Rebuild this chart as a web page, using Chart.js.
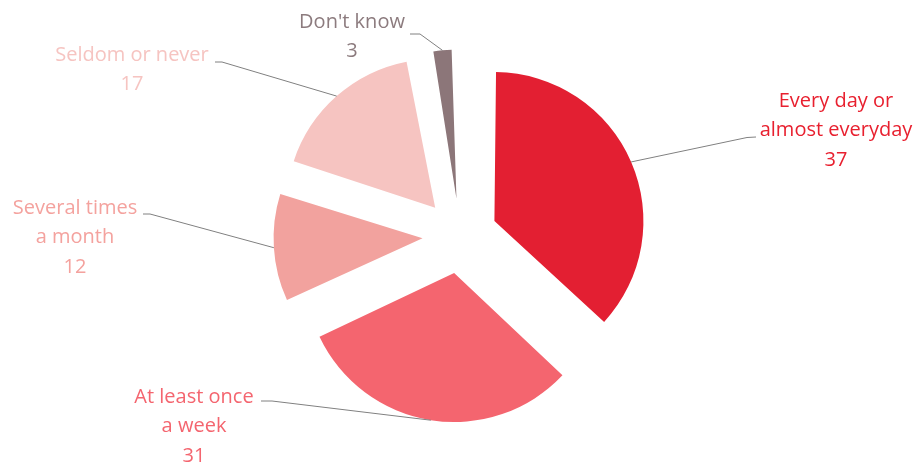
<!DOCTYPE html>
<html>
<head>
<meta charset="utf-8">
<script src="https://cdn.jsdelivr.net/npm/chart.js@4/dist/chart.umd.min.js"></script>
<style>
  html, body { margin: 0; padding: 0; background: #fff; }
  #wrap { width: 920px; height: 468px; }
</style>
</head>
<body>
<div id="wrap"><canvas id="c" width="920" height="468"></canvas></div>
<script>
const categories = [
    ['Every day or', 'almost everyday'],
    ['At least once', 'a week'],
    ['Several times', 'a month'],
    ['Seldom or never'],
    ["Don't know"]
];
const values = [37, 31, 12, 17, 3];
const sliceColors = ['#E31F32', '#F4656F', '#F2A29E', '#F6C4C1', '#8C7679'];
const labelColors = ['#E8202F', '#F4656F', '#F4A29E', '#F6C4C1', '#8C7B7E'];

// where each label block sits and where its leader line ends
const labelLayout = [
    { x: 836, y: 101, elbow: [747, 137.5], end: [756, 137] },
    { x: 194, y: 397, elbow: [272, 401], end: [261, 401] },
    { x: 75,  y: 208, elbow: [150, 214], end: [143, 214] },
    { x: 132, y: 55,  elbow: [222, 62],  end: [215, 62] },
    { x: 352, y: 22,  elbow: [420, 34],  end: [410, 34] }
];

const PIE_RADIUS = 149;
const EXPLODE = 150; // chart.js draws arcs shifted by offset / 4

// keep every slice the same radius (chart.js grows exploded arcs a bit)
const sameRadius = {
    id: 'sameRadius',
    afterDatasetUpdate(chart) {
        chart.getDatasetMeta(0).data.forEach(arc => {
            const off = EXPLODE / 4;
            const fix = 1 - Math.sin(Math.min(Math.PI, arc.circumference));
            arc.outerRadius = PIE_RADIUS - off * fix;
        });
    }
};

const outsideLabels = {
    id: 'outsideLabels',
    afterDatasetsDraw(chart) {
        const ctx = chart.ctx;
        const arcs = chart.getDatasetMeta(0).data;
        ctx.save();
        arcs.forEach((arc, i) => {
            const mid = (arc.startAngle + arc.endAngle) / 2;
            const r = EXPLODE / 4 + PIE_RADIUS;
            const px = arc.x + Math.cos(mid) * r;
            const py = arc.y + Math.sin(mid) * r;
            const lay = labelLayout[i];

            ctx.strokeStyle = '#808080';
            ctx.lineWidth = 1;
            ctx.beginPath();
            ctx.moveTo(px, py);
            ctx.lineTo(lay.elbow[0], lay.elbow[1]);
            ctx.lineTo(lay.end[0], lay.end[1]);
            ctx.stroke();

            ctx.fillStyle = labelColors[i];
            ctx.font = '20px "Open Sans", sans-serif';
            ctx.textAlign = 'center';
            ctx.textBaseline = 'middle';
            const lines = categories[i].concat([String(values[i])]);
            lines.forEach((t, k) => ctx.fillText(t, lay.x, lay.y + k * 29.5));
        });
        ctx.restore();
    }
};

new Chart(document.getElementById('c'), {
    type: 'pie',
    data: {
        labels: categories.map(c => c.join(' ')),
        datasets: [{
            data: values,
            backgroundColor: sliceColors,
            borderWidth: 0,
            offset: EXPLODE
        }]
    },
    options: {
        responsive: false,
        animation: false,
        radius: PIE_RADIUS,
        layout: { padding: { top: 4 } },
        plugins: {
            legend: { display: false },
            tooltip: { enabled: false }
        }
    },
    plugins: [sameRadius, outsideLabels]
});
</script>
</body>
</html>
